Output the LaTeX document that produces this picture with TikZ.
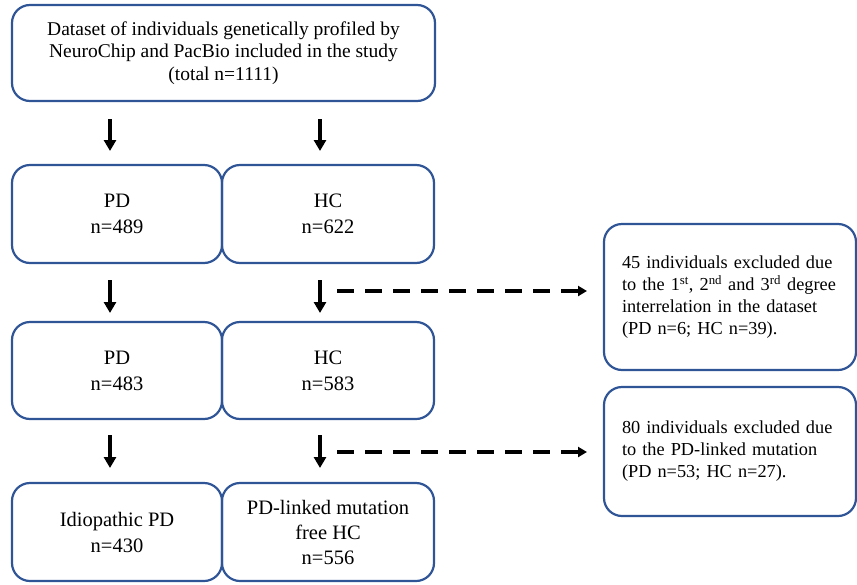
\documentclass[tikz,border=0pt]{standalone}
\usepackage{fontspec}
\setmainfont{Liberation Serif}
\usetikzlibrary{arrows.meta}
\definecolor{boxblue}{HTML}{2F5597}
\begin{document}
\begin{tikzpicture}[x=1pt,y=-1pt,
  box/.style={draw=boxblue, line width=2.2pt, rounded corners=18pt, align=center, inner sep=0pt},
  mainfont/.style={font=\fontsize{20.5pt}{26pt}\selectfont},
  sidebox/.style={box, align=left, text width=216pt, inner xsep=18pt, font=\fontsize{18.3pt}{22pt}\selectfont},
  flowarrow/.style={line width=3.2pt, -{Triangle[length=11pt,width=12pt]}},
  exclarrow/.style={line width=3.4pt, dash pattern=on 17pt off 11pt, -{Triangle[length=9pt,width=10pt]}}]
\useasboundingbox (0,0) rectangle (857,584);
% top
\node[box, minimum width=423pt, minimum height=96pt, font=\fontsize{19.5pt}{22.5pt}\selectfont] (top) at (223.5,53)
  {Dataset of individuals genetically profiled by\\NeuroChip and PacBio included in the study\\(total n=1111)};
% row 1
\node[box, mainfont, minimum width=210pt, minimum height=98pt] (pd1) at (117,214) {PD\\n=489};
\node[box, mainfont, minimum width=212pt, minimum height=98pt] (hc1) at (328,214) {HC\\n=622};
% row 2
\node[box, mainfont, minimum width=210pt, minimum height=97pt] (pd2) at (117,370.5) {PD\\n=483};
\node[box, mainfont, minimum width=212pt, minimum height=97pt] (hc2) at (328,370.5) {HC\\n=583};
% row 3
\node[box, mainfont, minimum width=210pt, minimum height=98pt] (pd3) at (117,532) {Idiopathic PD\\n=430};
\node[box, font=\fontsize{20.5pt}{25pt}\selectfont, minimum width=212pt, minimum height=98pt] (hc3) at (328,532) {PD-linked mutation\\free HC\\n=556};
% right boxes
\node[sidebox, minimum height=146pt] (ex1) at (730,297)
  {45 individuals excluded due\\to the 1\textsuperscript{st}, 2\textsuperscript{nd} and 3\textsuperscript{rd} degree\\interrelation in the dataset\\(PD n=6; HC n=39).};
\node[sidebox, minimum height=129pt] (ex2) at (730,451.5)
  {80 individuals excluded due\\to the PD-linked mutation\\(PD n=53; HC n=27).};
% arrow coordinates
\coordinate (a1s) at (110,119); \coordinate (a1e) at (110,151);
\coordinate (b1s) at (320,119); \coordinate (b1e) at (320,151);
\coordinate (a2s) at (110,280); \coordinate (a2e) at (110,313);
\coordinate (b2s) at (320,280); \coordinate (b2e) at (320,313);
\coordinate (a3s) at (110,435); \coordinate (a3e) at (110,468);
\coordinate (b3s) at (320,435); \coordinate (b3e) at (320,468);
\coordinate (d1s) at (337,291); \coordinate (d1e) at (587,291);
\coordinate (d2s) at (337,452); \coordinate (d2e) at (587,452);
\draw[flowarrow] (a1s) -- (a1e);
\draw[flowarrow] (b1s) -- (b1e);
\draw[flowarrow] (a2s) -- (a2e);
\draw[flowarrow] (b2s) -- (b2e);
\draw[flowarrow] (a3s) -- (a3e);
\draw[flowarrow] (b3s) -- (b3e);
\draw[exclarrow] (d1s) -- (d1e);
\draw[exclarrow] (d2s) -- (d2e);
\end{tikzpicture}
\end{document}
